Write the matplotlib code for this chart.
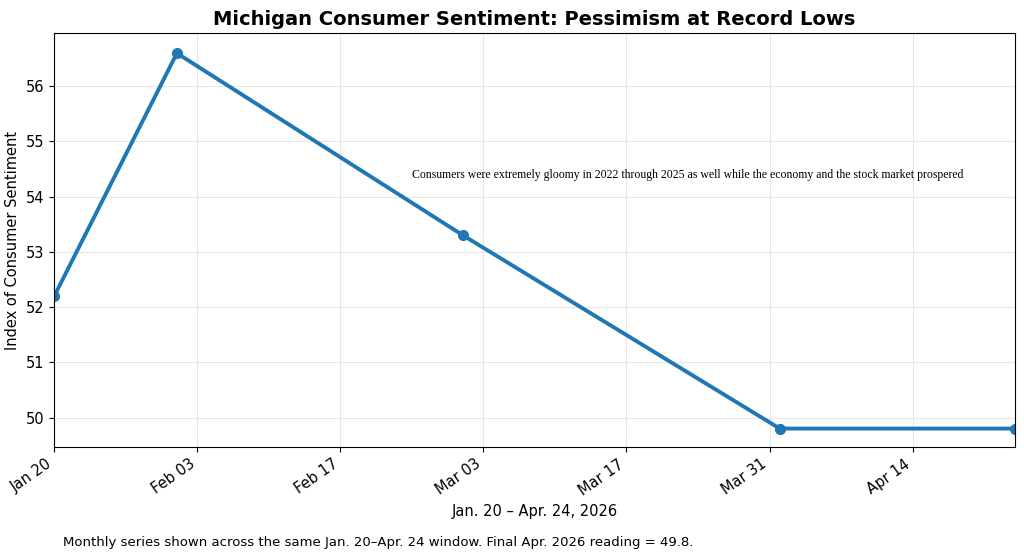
import matplotlib.pyplot as plt
import matplotlib.dates as mdates
import pandas as pd

dates = pd.to_datetime(["2026-01-20", "2026-02-01", "2026-03-01", "2026-04-01", "2026-04-24"])
sentiment = [52.2, 56.6, 53.3, 49.8, 49.8]

fig, ax = plt.subplots(figsize=(10.24, 5.55), dpi=100)
ax.plot(dates, sentiment, color="#1f77b4", linewidth=2.8, marker="o", markersize=7)
ax.set_xlim(dates[0], dates[-1])
ax.set_ylim(49.47, 56.96)
ax.grid(True, color="#e6e6e6", linewidth=0.8)

ticks = pd.date_range("2026-01-20", "2026-04-24", freq="14D")
ax.set_xticks(ticks)
ax.xaxis.set_major_formatter(mdates.DateFormatter("%b %d"))
plt.setp(ax.get_xticklabels(), rotation=35, ha="right", fontsize=10.5)
ax.tick_params(axis="y", labelsize=10.5)

ax.set_title("Michigan Consumer Sentiment: Pessimism at Record Lows", fontsize=14, fontweight="bold")
ax.set_xlabel("Jan. 20 \u2013 Apr. 24, 2026", fontsize=10.5)
ax.set_ylabel("Index of Consumer Sentiment", fontsize=10.5)

ax.text(pd.Timestamp("2026-02-24"), 54.4,
        "Consumers were extremely gloomy in 2022 through 2025 as well while the economy and the stock market prospered",
        family="Liberation Serif", fontsize=8.5, va="center", ha="left")

fig.text(0.062, 0.016, "Monthly series shown across the same Jan. 20\u2013Apr. 24 window. Final Apr. 2026 reading = 49.8.",
         fontsize=9.5)

fig.subplots_adjust(left=0.053, right=0.991, top=0.94, bottom=0.195)
fig.savefig("out.png")
